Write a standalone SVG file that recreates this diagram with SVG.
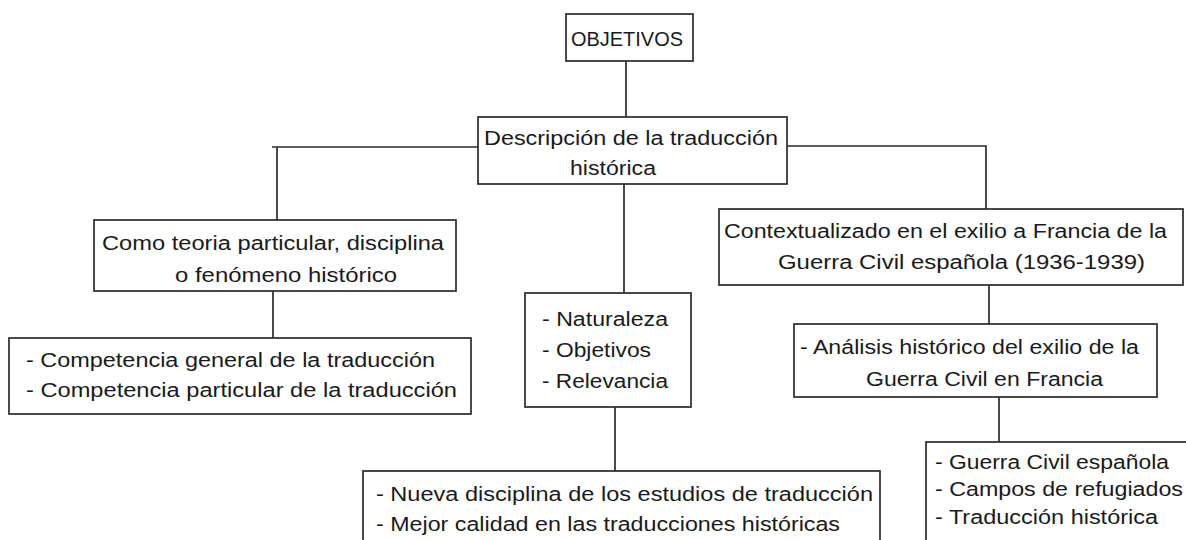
<svg xmlns="http://www.w3.org/2000/svg" width="1186" height="540" viewBox="0 0 1186 540">
<style>
.box{fill:#fff;stroke:#2a2a2a;stroke-width:1.7}
.ln{fill:none;stroke:#2a2a2a;stroke-width:1.7}
text{font-family:"Liberation Sans",Arial,sans-serif;font-size:20px;fill:#1a1a1a}
</style>
<rect width="1186" height="540" fill="#fff"/>
<g id="connectors">
<line class="ln" x1="626" y1="61" x2="626" y2="117"/>
<polyline class="ln" points="272,147 478,147"/>
<line class="ln" x1="277" y1="147" x2="277" y2="220"/>
<polyline class="ln" points="787,146 986,146 986,209"/>
<line class="ln" x1="624" y1="184" x2="624" y2="293"/>
<line class="ln" x1="273" y1="291" x2="273" y2="338"/>
<line class="ln" x1="989" y1="285" x2="989" y2="324"/>
<line class="ln" x1="999" y1="397" x2="999" y2="442"/>
<line class="ln" x1="615" y1="407" x2="615" y2="471"/>
</g>
<g id="n-objetivos">
<rect class="box" x="566" y="14" width="127" height="47"/>
<text x="571" y="46" textLength="112" lengthAdjust="spacingAndGlyphs">OBJETIVOS</text>
</g>
<g id="n-descripcion">
<rect class="box" x="478" y="117" width="309" height="67"/>
<text x="484" y="145" textLength="294" lengthAdjust="spacingAndGlyphs">Descripción de la traducción</text>
<text x="570" y="175" textLength="86" lengthAdjust="spacingAndGlyphs">histórica</text>
</g>
<g id="n-como">
<rect class="box" x="94" y="220" width="362" height="71"/>
<text x="102" y="250" textLength="342" lengthAdjust="spacingAndGlyphs">Como teoria particular, disciplina</text>
<text x="175" y="282" textLength="222" lengthAdjust="spacingAndGlyphs">o fenómeno histórico</text>
</g>
<g id="n-competencia">
<rect class="box" x="9" y="338" width="462" height="76"/>
<text x="26" y="367" textLength="409" lengthAdjust="spacingAndGlyphs">- Competencia general de la traducción</text>
<text x="26" y="397" textLength="431" lengthAdjust="spacingAndGlyphs">- Competencia particular de la traducción</text>
</g>
<g id="n-contextualizado">
<rect class="box" x="719" y="209" width="464" height="76"/>
<text x="724" y="238" textLength="443" lengthAdjust="spacingAndGlyphs">Contextualizado en el exilio a Francia de la</text>
<text x="778" y="269" textLength="367" lengthAdjust="spacingAndGlyphs">Guerra Civil española (1936-1939)</text>
</g>
<g id="n-analisis">
<rect class="box" x="794" y="324" width="363" height="73"/>
<text x="800" y="354" textLength="339" lengthAdjust="spacingAndGlyphs">- Análisis histórico del exilio de la</text>
<text x="866" y="386" textLength="237" lengthAdjust="spacingAndGlyphs">Guerra Civil en Francia</text>
</g>
<g id="n-naturaleza">
<rect class="box" x="525" y="293" width="166" height="114"/>
<text x="542" y="326" textLength="126" lengthAdjust="spacingAndGlyphs">- Naturaleza</text>
<text x="542" y="357" textLength="109" lengthAdjust="spacingAndGlyphs">- Objetivos</text>
<text x="542" y="388" textLength="126" lengthAdjust="spacingAndGlyphs">- Relevancia</text>
</g>
<g id="n-nueva">
<rect class="box" x="363" y="471" width="517" height="80"/>
<text x="376" y="501" textLength="497" lengthAdjust="spacingAndGlyphs">- Nueva disciplina de los estudios de traducción</text>
<text x="376" y="531" textLength="464" lengthAdjust="spacingAndGlyphs">- Mejor calidad en las traducciones históricas</text>
</g>
<g id="n-guerra">
<rect class="box" x="926" y="442" width="280" height="110"/>
<text x="935" y="469" textLength="234" lengthAdjust="spacingAndGlyphs">- Guerra Civil española</text>
<text x="935" y="496" textLength="248" lengthAdjust="spacingAndGlyphs">- Campos de refugiados</text>
<text x="935" y="524" textLength="223" lengthAdjust="spacingAndGlyphs">- Traducción histórica</text>
</g>
</svg>
